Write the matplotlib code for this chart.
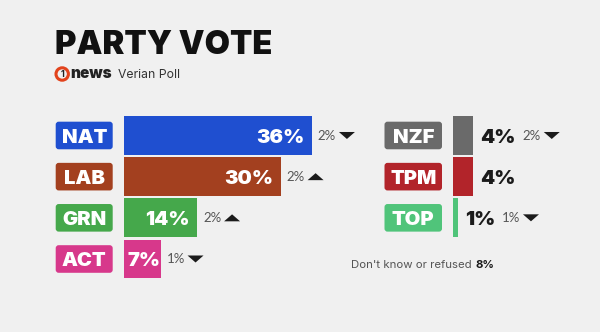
import matplotlib
matplotlib.use("Agg")
import matplotlib.pyplot as plt
from matplotlib.patches import FancyBboxPatch, Polygon, Circle

# ---- poll data -------------------------------------------------------------
left_parties = ["NAT", "LAB", "GRN", "ACT"]
left_values = [36, 30, 14, 7]
left_changes = [2, 2, 2, 1]
left_dirs = ["down", "up", "up", "down"]

right_parties = ["NZF", "TPM", "TOP"]
right_values = [4, 4, 1]
right_changes = [2, None, 1]
right_dirs = ["down", None, "down"]

undecided = 8

# ---- styling ---------------------------------------------------------------
left_colors = ["#1f4fd0", "#a3401f", "#45a84b", "#d7388b"]
right_colors = ["#6a6a6a", "#b2242a", "#50c47a"]
BG = "#f0f0f0"
DARK = "#1b1b1b"
GREY = "#555555"
FONT = ["Inter", "DejaVu Sans"]
FONT_LIGHT = ["Lato", "DejaVu Sans"]

W, H, DPI = 600, 332, 100
SCALE = 5.22             # pixels per percentage point
ROW = 41.17              # row pitch in pixels
BAR_H = 0.947

fig = plt.figure(figsize=(W / DPI, H / DPI), dpi=DPI)
fig.patch.set_facecolor(BG)


def px_axes(x, y, w, h):
    return fig.add_axes([x / W, 1 - (y + h) / H, w / W, h / H])


def bar_axes(x0, top, n, xmax):
    ax = px_axes(x0, top, xmax * SCALE, n * ROW)
    ax.set_xlim(0, xmax)
    ax.set_ylim(n - 0.5, -0.5)
    ax.axis("off")
    return ax


axL = bar_axes(124, 114.9, len(left_parties), 40)
axR = bar_axes(452.5, 114.9, len(right_parties), 20)

axL.barh(range(len(left_values)), left_values, height=BAR_H,
         color=left_colors, edgecolor="none")
axR.barh(range(len(right_values)), right_values, height=BAR_H,
         color=right_colors, edgecolor="none")

# pixel-space layer for labels, drawn above the bars
overlay = px_axes(0, 0, W, H)
overlay.set_xlim(0, W)
overlay.set_ylim(H, 0)
overlay.axis("off")
overlay.set_zorder(5)

# ---- title -----------------------------------------------------------------
overlay.text(55, 53.5, "PARTY VOTE", fontsize=23.5, fontweight="black",
             family=FONT, color="#111111", va="baseline", ha="left")

# news logo: ring with a "1"
overlay.add_patch(Circle((62.2, 74), 6.2, facecolor="none",
                         edgecolor="#e2431c", linewidth=2.2))
overlay.text(62.2, 74.5, "1", fontsize=6.5, fontweight="bold", family=FONT,
             color="#222222", ha="center", va="center")
overlay.text(70, 78.5, "news", fontsize=11, fontweight="black",
             family=FONT, color="#222222", va="baseline", ha="left")
overlay.text(118, 78.5, "Verian Poll", fontsize=8.8, family=FONT,
             color="#333333", va="baseline", ha="left")


def to_px(ax, x, y):
    dx, dy = ax.transData.transform((x, y))
    return dx, H - dy


def party_box(x0, w, yc, name, color):
    h = 27.6
    overlay.add_patch(FancyBboxPatch((x0, yc - h / 2), w, h,
                                     boxstyle="round,pad=0,rounding_size=3",
                                     facecolor=color, edgecolor="none"))
    overlay.text(x0 + w / 2, yc + 7.3, name, fontsize=14.5, fontweight="black",
                 family=FONT, color="white", ha="center", va="baseline")


def triangle(x, yc, direction):
    w, h = 16, 7
    if direction == "down":
        pts = [(x, yc - h / 2), (x + w, yc - h / 2), (x + w / 2, yc + h / 2)]
    else:
        pts = [(x, yc + h / 2), (x + w, yc + h / 2), (x + w / 2, yc - h / 2)]
    overlay.add_patch(Polygon(pts, closed=True, facecolor=DARK,
                              edgecolor="none"))


def change_label(x, yc, change, direction):
    overlay.text(x, yc + 4.3, f"{change}%", fontsize=9.5, family=FONT_LIGHT,
                 color=GREY, ha="left", va="baseline")
    triangle(x + 21, yc, direction)


fig.canvas.draw()
renderer = fig.canvas.get_renderer()

# ---- left block ------------------------------------------------------------
for i, (name, v, ch, d, c) in enumerate(zip(left_parties, left_values,
                                             left_changes, left_dirs,
                                             left_colors)):
    x_end, yc = to_px(axL, v, i)
    x_start, _ = to_px(axL, 0, i)
    party_box(55.7, 57, yc, name, c)
    t = overlay.text(x_end - 7, yc + 7.2, f"{v}%", fontsize=14.5,
                     fontweight="black", family=FONT, color="white",
                     ha="right", va="baseline")
    bb = t.get_window_extent(renderer)
    if bb.x0 < x_start + 3:
        t.set_horizontalalignment("left")
        t.set_x(x_start + 3)
    change_label(x_end + 6, yc, ch, d)

# ---- right block -----------------------------------------------------------
for i, (name, v, ch, d, c) in enumerate(zip(right_parties, right_values,
                                             right_changes, right_dirs,
                                             right_colors)):
    x_end, yc = to_px(axR, v, i)
    party_box(384.5, 57.5, yc, name, c)
    t = overlay.text(x_end + 7, yc + 7.2, f"{v}%", fontsize=14.5,
                     fontweight="black", family=FONT, color=DARK,
                     ha="left", va="baseline")
    if ch is not None:
        bb = t.get_window_extent(renderer)
        change_label(bb.x1 + 7, yc, ch, d)

# ---- undecided note --------------------------------------------------------
note = overlay.text(351, 268, "Don't know or refused", fontsize=8.2,
                    family=FONT, color=GREY, ha="left", va="baseline")
nb = note.get_window_extent(renderer)
overlay.text(nb.x1 + 4, 268, f"{undecided}%", fontsize=8.2,
             fontweight="bold", family=FONT, color=DARK,
             ha="left", va="baseline")

fig.savefig("out.png", dpi=DPI, facecolor=BG)
